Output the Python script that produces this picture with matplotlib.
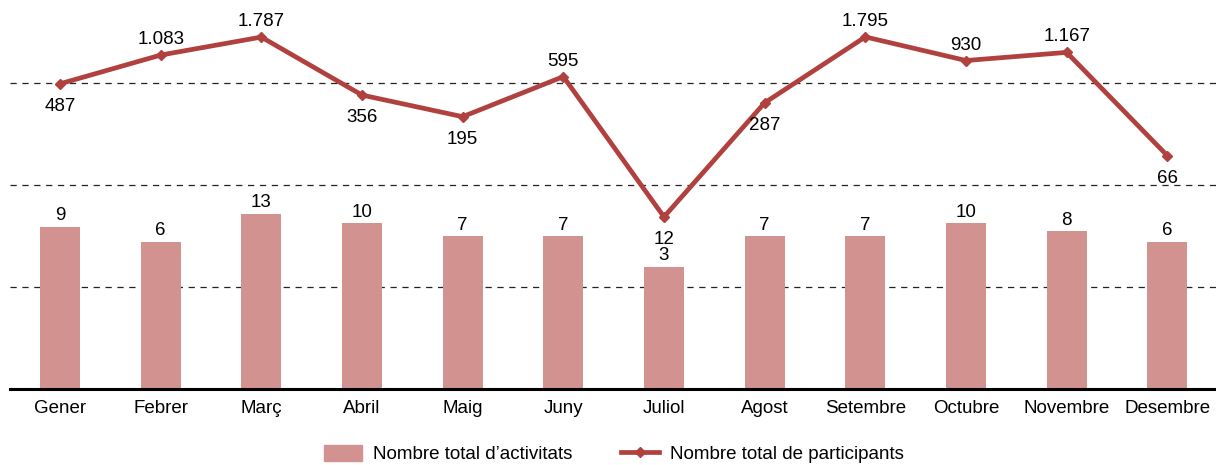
import matplotlib
matplotlib.use("Agg")
import matplotlib.pyplot as plt
from matplotlib.lines import Line2D
from matplotlib.patches import Patch

# data
months = ["Gener", "Febrer", "Març", "Abril", "Maig", "Juny", "Juliol",
          "Agost", "Setembre", "Octubre", "Novembre", "Desembre"]
activitats = [9, 6, 13, 10, 7, 7, 3, 7, 7, 10, 8, 6]
participants = [487, 1083, 1787, 356, 195, 595, 12, 287, 1795, 930, 1167, 66]
# where each participant label sits relative to its point
label_side = ["below", "above", "above", "below", "below", "above",
              "below", "below", "above", "above", "above", "below"]

bar_color = "#D29390"
line_color = "#B0413E"
fs = 13.5

plt.rcParams["font.family"] = ["Liberation Sans", "DejaVu Sans"]

fig = plt.figure(figsize=(12.16, 4.65), dpi=100)
ax = fig.add_axes([9.65 / 1216, 1 - 389 / 465, 1208 / 1216, 389 / 465])

x = range(len(months))
ax.bar(x, activitats, width=0.4, color=bar_color, zorder=2)
ax.plot(x, participants, color=line_color, lw=3.4, marker="D", ms=5.5,
        zorder=3)

ax.set_yscale("log")
ax.set_ylim(0.1, 10 ** 3.70)
ax.set_xlim(-0.5, len(months) - 0.5)

# gridlines (log base 17 like the original)
ax.set_yticks([0.1 * 17 ** k for k in (1, 2, 3)])
ax.yaxis.set_minor_locator(matplotlib.ticker.NullLocator())
ax.grid(axis="y", color="#222222", ls=(0, (5, 4.5)), lw=0.9, zorder=1)
ax.tick_params(axis="y", left=False, labelleft=False)

ax.set_xticks(list(x))
ax.set_xticklabels(months, fontsize=fs)
ax.tick_params(axis="x", length=0, pad=8)

for s in ["top", "right", "left"]:
    ax.spines[s].set_visible(False)
ax.spines["bottom"].set_linewidth(2.2)
ax.spines["bottom"].set_color("black")

for i, v in enumerate(activitats):
    ax.annotate(str(v), (i, v), xytext=(0, 2), textcoords="offset points",
                ha="center", va="bottom", fontsize=fs)

for i, (v, side) in enumerate(zip(participants, label_side)):
    txt = f"{v:,}".replace(",", ".")
    if side == "above":
        ax.annotate(txt, (i, v), xytext=(0, 5), textcoords="offset points",
                    ha="center", va="bottom", fontsize=fs)
    else:
        ax.annotate(txt, (i, v), xytext=(0, -10), textcoords="offset points",
                    ha="center", va="top", fontsize=fs)

handles = [Patch(color=bar_color),
           Line2D([], [], color=line_color, lw=3.4, marker="D", ms=5.5)]
fig.legend(handles, ["Nombre total d\u2019activitats", "Nombre total de participants"],
           loc="center", bbox_to_anchor=(0.505, 1 - 454 / 465), ncol=2,
           frameon=False, fontsize=fs, handlelength=2.0, columnspacing=2.6,
           handletextpad=0.6, handleheight=1.0)

fig.savefig("out.png", dpi=100)
